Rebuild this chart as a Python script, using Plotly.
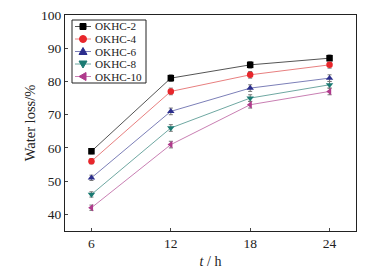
import plotly.graph_objects as go

times = [6, 12, 18, 24]
series_names = ["OKHC-2", "OKHC-4", "OKHC-6", "OKHC-8", "OKHC-10"]
okhc2 = [59, 81, 85, 87]
okhc4 = [56, 77, 82, 85]
okhc6 = [51, 71, 78, 81]
okhc8 = [46, 66, 75, 79]
okhc10 = [42, 61, 73, 77]
errors = [0.8, 1.0, 1.0, 1.0]
y_ticks = [40, 50, 60, 70, 80, 90, 100]

values = [okhc2, okhc4, okhc6, okhc8, okhc10]
colors = ["#000000", "#e8262b", "#2b2d8c", "#1a7a72", "#b03a8c"]
line_colors = ["#555555", "#e88080", "#7c7fb8", "#6fa8a2", "#c97fb3"]
symbols = ["square", "circle", "triangle-up", "triangle-down", "triangle-left"]

font = "Liberation Serif"

W, H = 378, 269
ML, MR, MT, MB = 65, 22, 15, 38
PW, PH = W - ML - MR, H - MT - MB


def px_x(p):
    return (p - ML) / PW


def px_y(p):
    return (H - MB - p) / PH


fig = go.Figure()
for name, vals, c, lc, s in zip(series_names, values, colors, line_colors, symbols):
    fig.add_trace(go.Scatter(
        x=times, y=vals, name=name, mode="lines+markers",
        line=dict(color=lc, width=1),
        marker=dict(color=c, symbol=s, size=6.5),
        error_y=dict(type="data", array=errors, color="#777777", thickness=1, width=2),
        showlegend=False,
    ))

# compact legend box (paper coordinates derived from pixel layout)
shapes = []
annotations = []
n = len(series_names)
step = 12.5
top = 20
shapes.append(dict(type="rect", xref="paper", yref="paper", x0=px_x(72), x1=px_x(146),
                   y0=px_y(top + step * n + 0.5), y1=px_y(top),
                   line=dict(color="#222222", width=1), fillcolor="white", layer="above"))
mx = px_x(83)
tri = {
    "triangle-up": "M 0 4 L -4 -3 L 4 -3 Z",
    "triangle-down": "M 0 -4 L -4 3 L 4 3 Z",
    "triangle-left": "M -4 0 L 3 -4 L 3 4 Z",
}
for i, (name, c, lc, s) in enumerate(zip(series_names, colors, line_colors, symbols)):
    yc = px_y(top + step * (i + 0.5) + 0.25)
    shapes.append(dict(type="line", xref="paper", yref="paper", x0=px_x(75), x1=px_x(91),
                       y0=yc, y1=yc, line=dict(color=lc, width=1), layer="above"))
    common = dict(xref="paper", yref="paper", xsizemode="pixel", ysizemode="pixel",
                  xanchor=mx, yanchor=yc, fillcolor=c, line=dict(color=c, width=1),
                  layer="above")
    if s == "square":
        shapes.append(dict(type="rect", x0=-3, x1=3, y0=-3, y1=3, **common))
    elif s == "circle":
        shapes.append(dict(type="circle", x0=-3.5, x1=3.5, y0=-3.5, y1=3.5, **common))
    else:
        shapes.append(dict(type="path", path=tri[s], **common))
    annotations.append(dict(text=name, xref="paper", yref="paper", x=px_x(94), y=yc,
                            xanchor="left", yanchor="middle", showarrow=False,
                            borderpad=0,
                            font=dict(family=font, size=11.2, color="#222222")))

fig.update_layout(
    width=W, height=H,
    margin=dict(l=ML, r=MR, t=MT, b=MB),
    paper_bgcolor="white", plot_bgcolor="white",
    font=dict(family=font, size=13, color="#222222"),
    showlegend=False,
    shapes=shapes,
    annotations=annotations,
    xaxis=dict(
        range=[4, 26], tickvals=times, ticks="inside", ticklen=3,
        showline=True, linecolor="#222222", linewidth=1, mirror=True,
        showgrid=False, zeroline=False, tickfont=dict(size=13.5), automargin=False,
        title=dict(text="<i>t</i> / h", font=dict(size=14), standoff=6),
    ),
    yaxis=dict(
        range=[35, 100], tickvals=y_ticks, ticks="inside", ticklen=3,
        showline=True, linecolor="#222222", linewidth=1, mirror=True,
        showgrid=False, zeroline=False, tickfont=dict(size=13.5), automargin=False,
        title=dict(text="Water loss/%", font=dict(size=14.5), standoff=1),
    ),
)
fig.write_html("out.html", config={"displayModeBar": False},
               post_script="document.body.style.margin='0px';document.body.style.padding='0px';")
